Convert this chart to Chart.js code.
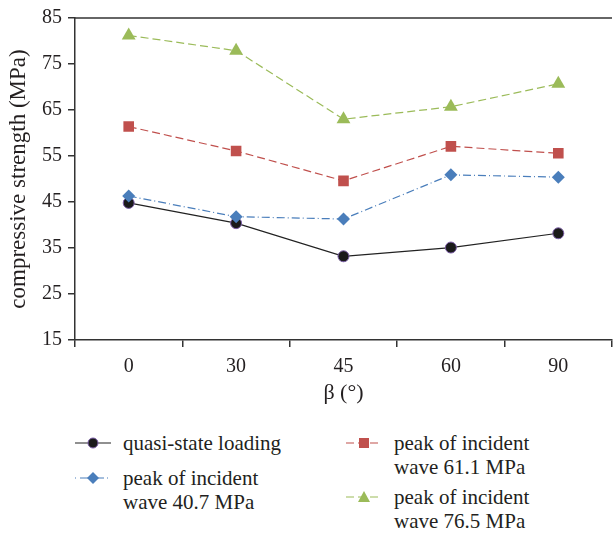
<!DOCTYPE html>
<html>
<head>
<meta charset="utf-8">
<script src="https://cdn.jsdelivr.net/npm/chart.js@4.4.0/dist/chart.umd.min.js"></script>
<style>
  html, body { margin: 0; padding: 0; background: #fff; overflow: hidden; }
  body { width: 614px; height: 535px; position: relative; }
  #wrap { position: absolute; left: 0; top: 0; width: 620px; height: 420px; }
  .leg { position: absolute; font-family: "Liberation Serif", serif; font-size: 21px; line-height: 24px; color: #231f20; }
  .leg svg { position: absolute; }
</style>
</head>
<body>
<div id="wrap"><canvas id="myChart1"></canvas></div>

<div class="leg" style="left:75px; top:431px;">
  <svg width="36" height="24" style="left:0;top:0"><line x1="0" y1="12" x2="36" y2="12" stroke="#222" stroke-width="1.2"/><circle cx="18" cy="12" r="5" fill="#1a1a1a" stroke="#7b5ea7" stroke-width="1"/></svg>
  <div style="position:absolute; left:48px; top:0; white-space:nowrap;">quasi-state loading</div>
</div>
<div class="leg" style="left:75px; top:466px;">
  <svg width="36" height="24" style="left:0;top:0"><line x1="0" y1="12" x2="36" y2="12" stroke="#4a7ebb" stroke-width="1.2" stroke-dasharray="1,4,8,3"/><path d="M18 6 L24 12 L18 18 L12 12 Z" fill="#4a7ebb"/></svg>
  <div style="position:absolute; left:48px; top:0; white-space:nowrap;">peak of incident<br>wave 40.7 MPa</div>
</div>
<div class="leg" style="left:346px; top:431px;">
  <svg width="36" height="24" style="left:0;top:0"><line x1="0" y1="12" x2="36" y2="12" stroke="#c0504d" stroke-width="1.2" stroke-dasharray="8,4"/><rect x="13" y="7" width="10" height="10" fill="#c0504d"/></svg>
  <div style="position:absolute; left:48px; top:0; white-space:nowrap;">peak of incident<br>wave 61.1 MPa</div>
</div>
<div class="leg" style="left:346px; top:485px;">
  <svg width="36" height="24" style="left:0;top:0"><line x1="0" y1="12" x2="36" y2="12" stroke="#9bbb59" stroke-width="1.2" stroke-dasharray="8,4"/><path d="M18 6 L24 17 L12 17 Z" fill="#9bbb59"/></svg>
  <div style="position:absolute; left:48px; top:0; white-space:nowrap;">peak of incident<br>wave 76.5 MPa</div>
</div>

<script>
// angles (categories)
const angulos = ['0', '30', '45', '60', '90'];
// series values (MPa)
const cuasiEstatica = [44.8, 40.4, 33.2, 35.1, 38.2];
const pico407 = [46.3, 41.8, 41.3, 50.9, 50.4];
const pico611 = [61.4, 56.1, 49.6, 57.1, 55.6];
const pico765 = [81.2, 77.9, 63.0, 65.7, 70.7];
// y ticks
const yMin = 15;
const yMax = 85;
const yPaso = 10;

const fuente = "'Liberation Serif', serif";
const ctx = document.getElementById('myChart1');

// linea superior del marco
const bordeArriba = {
  id: 'bordeArriba',
  afterDraw(chart) {
    const a = chart.chartArea;
    const c = chart.ctx;
    c.save();
    c.strokeStyle = '#333';
    c.lineWidth = 1.5;
    c.beginPath();
    c.moveTo(a.left, a.top);
    c.lineTo(a.right, a.top);
    c.stroke();
    c.restore();
  }
};

new Chart(ctx, {
  type: 'line',
  data: {
    labels: angulos,
    datasets: [
      {
        label: 'peak of incident wave 76.5 MPa',
        data: pico765,
        borderColor: '#9bbb59',
        backgroundColor: '#9bbb59',
        borderWidth: 1.2,
        borderDash: [8, 4],
        pointStyle: 'triangle',
        pointRadius: 8,
        pointBorderWidth: 0
      },
      {
        label: 'peak of incident wave 61.1 MPa',
        data: pico611,
        borderColor: '#c0504d',
        backgroundColor: '#c0504d',
        borderWidth: 1.2,
        borderDash: [8, 4],
        pointStyle: 'rect',
        pointRadius: 7.5,
        pointBorderWidth: 0
      },
      {
        label: 'peak of incident wave 40.7 MPa',
        data: pico407,
        borderColor: '#4a7ebb',
        backgroundColor: '#4a7ebb',
        borderWidth: 1.2,
        borderDash: [8, 3, 1, 3],
        pointStyle: 'rectRot',
        pointRadius: 6.5,
        pointBorderWidth: 0
      },
      {
        label: 'quasi-state loading',
        data: cuasiEstatica,
        borderColor: '#222',
        backgroundColor: '#1a1a1a',
        pointBorderColor: '#7b5ea7',
        borderWidth: 1.2,
        pointStyle: 'circle',
        pointRadius: 5.5,
        pointBorderWidth: 1
      }
    ]
  },
  options: {
    responsive: true,
    maintainAspectRatio: false,
    animation: false,
    layout: { padding: { top: 14, right: 4, left: 0, bottom: 12 } },
    plugins: {
      legend: { display: false },
      tooltip: { enabled: false }
    },
    scales: {
      x: {
        offset: true,
        grid: { display: true, offset: true, drawOnChartArea: false, tickLength: 7, color: '#333', lineWidth: 1.5 },
        border: { display: true, color: '#333', width: 1.5 },
        ticks: { color: '#231f20', padding: 8, font: { family: fuente, size: 20 } },
        title: { display: true, text: 'β (°)', color: '#231f20', padding: { top: 4, bottom: 2 }, font: { family: fuente, size: 22 } },
        afterFit: (s) => { s.height = 68; }
      },
      y: {
        min: yMin,
        max: yMax,
        grid: { display: true, drawOnChartArea: false, tickLength: 7, color: '#333', lineWidth: 1.5 },
        border: { display: true, color: '#333', width: 1.5 },
        ticks: { stepSize: yPaso, color: '#231f20', padding: 6, font: { family: fuente, size: 20 } },
        title: { display: true, text: 'compressive strength (MPa)', color: '#231f20', padding: { top: 5, bottom: 4 }, font: { family: fuente, size: 23 } },
        afterFit: (s) => { s.width = 75; }
      }
    }
  },
  plugins: [bordeArriba]
});
</script>
</body>
</html>
